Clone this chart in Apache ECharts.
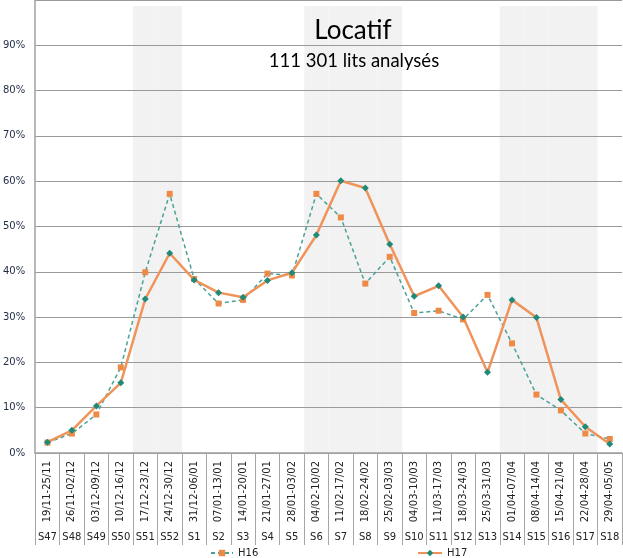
<!DOCTYPE html>
<html>
<head>
<meta charset="utf-8">
<script src="https://cdn.jsdelivr.net/npm/echarts@6/dist/echarts.min.js"></script>
<style>
  html, body { margin: 0; padding: 0; background: #fff; }
  #main { width: 623px; height: 558px; }
</style>
</head>
<body>
<div id="main"></div>
<script>
// semaines et periodes
var weeks = ['S47','S48','S49','S50','S51','S52','S1','S2','S3','S4','S5','S6','S7','S8','S9','S10','S11','S12','S13','S14','S15','S16','S17','S18'];
var periods = ['19/11-25/11','26/11-02/12','03/12-09/12','10/12-16/12','17/12-23/12','24/12-30/12','31/12-06/01','07/01-13/01','14/01-20/01','21/01-27/01','28/01-03/02','04/02-10/02','11/02-17/02','18/02-24/02','25/02-03/03','04/03-10/03','11/03-17/03','18/03-24/03','25/03-31/03','01/04-07/04','08/04-14/04','15/04-21/04','22/04-28/04','29/04-05/05'];
var h16 = [2.3, 4.3, 8.5, 18.9, 39.9, 57.2, 38.4, 33.0, 33.8, 39.6, 39.2, 57.2, 52.0, 37.4, 43.3, 30.9, 31.4, 29.5, 34.9, 24.2, 12.9, 9.4, 4.3, 3.1];
var h17 = [2.4, 5.0, 10.4, 15.5, 34.0, 44.1, 38.2, 35.4, 34.4, 38.1, 39.8, 48.1, 60.1, 58.5, 46.1, 34.6, 36.9, 30.0, 17.8, 33.8, 29.9, 11.8, 5.8, 2.0];
// semaines grisees (vacances)
var shaded = ['S51','S52','S6','S7','S8','S9','S14','S15','S16','S17'];

var bands = weeks.map(function (w) { return shaded.indexOf(w) >= 0 ? 98.7 : '-'; });

var chart = echarts.init(document.getElementById('main'));
chart.setOption({
  animation: false,
  grid: { left: 35, right: 1, top: -3, bottom: 105 },
  graphic: [
    { type: 'text', x: 353, y: 31, style: { text: 'Locatif', font: '26px Lato', fill: '#000', textAlign: 'center', textVerticalAlign: 'middle' } },
    { type: 'text', x: 354, y: 61, style: { text: '111 301 lits analysés', font: '18.5px Lato', fill: '#000', textAlign: 'center', textVerticalAlign: 'middle' } }
  ],
  legend: [
    { left: 205, top: 543, itemWidth: 22, itemHeight: 8, itemGap: 4, data: ['H16'],
      textStyle: { fontSize: 10, color: '#222', fontFamily: 'DejaVu Sans' } },
    { left: 412, top: 543, itemWidth: 24, itemHeight: 8, itemGap: 4, data: ['H17'],
      textStyle: { fontSize: 10, color: '#222', fontFamily: 'DejaVu Sans' } }
  ],
  xAxis: [
    {
      type: 'category',
      data: periods,
      axisLine: { lineStyle: { color: '#a0a0a0', width: 1.5 } },
      axisTick: { show: true, interval: 0, length: 92, lineStyle: { color: '#a6a6a6' } },
      axisLabel: { interval: 0, rotate: 90, margin: 8, fontSize: 10, color: '#222', fontFamily: 'DejaVu Sans' }
    },
    {
      type: 'category',
      data: weeks,
      position: 'bottom',
      axisLine: { show: false },
      axisTick: { show: false },
      axisLabel: { interval: 0, margin: 79, fontSize: 10, color: '#222', fontFamily: 'DejaVu Sans' }
    }
  ],
  yAxis: {
    type: 'value',
    min: 0,
    max: 100,
    interval: 10,
    axisLine: { show: true, lineStyle: { color: '#a0a0a0', width: 1.5 } },
    axisTick: { show: false },
    splitLine: { lineStyle: { color: '#9a9a9a', width: 1.2 } },
    axisLabel: {
      margin: 10, fontSize: 10, color: '#1f2a44', fontFamily: 'DejaVu Sans',
      formatter: function (v) { return v >= 100 ? '' : v + '%'; }
    }
  },
  series: [
    {
      name: 'vacances',
      type: 'bar',
      data: bands,
      barCategoryGap: '0%',
      barWidth: '100%',
      silent: true,
      z: -1,
      itemStyle: { color: '#f2f2f2' }
    },
    {
      name: 'H16',
      type: 'line',
      data: h16,
      symbol: 'rect',
      symbolSize: 6,
      lineStyle: { color: '#4aa297', width: 1.5, type: [4, 3] },
      itemStyle: { color: '#ee8a45' }
    },
    {
      name: 'H17',
      type: 'line',
      data: h17,
      symbol: 'diamond',
      symbolSize: 7,
      lineStyle: { color: '#f0935a', width: 2.5 },
      itemStyle: { color: '#1f8a78' }
    }
  ]
});
</script>
</body>
</html>
